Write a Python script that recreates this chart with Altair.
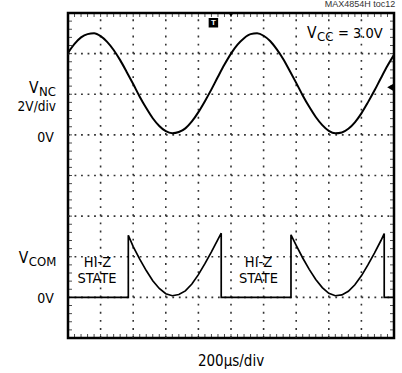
import altair as alt
import pandas as pd

NARROW = "DejaVu Sans Condensed, Liberation Sans Narrow, Arial Narrow, sans-serif"
REG = "Liberation Sans, Arial, sans-serif"

# ---- data (time in divisions of 200us, voltage in volts at 2V/div) ----
t_nc = [round(0.2 * i, 1) for i in range(51)]
nc_volts = [4.04, 4.48, 4.80, 4.96, 5.00, 4.86, 4.58, 4.18, 3.68, 3.10,
            2.50, 1.88, 1.32, 0.82, 0.44, 0.18, 0.08, 0.14, 0.32, 0.66,
            1.12, 1.66, 2.24, 2.86, 3.46, 4.00, 4.44, 4.76, 4.96, 5.00,
            4.88, 4.62, 4.22, 3.74, 3.16, 2.56, 1.94, 1.38, 0.88, 0.48,
            0.20, 0.08, 0.12, 0.30, 0.62, 1.06, 1.60, 2.18, 2.80, 3.40, 3.94]

com_t = [0, 1.85, 1.85, 2.0, 2.2, 2.4, 2.6, 2.8, 3.0, 3.2, 3.4, 3.6, 3.8, 4.0,
         4.2, 4.4, 4.6, 4.7, 4.7, 6.84, 6.84, 7.0, 7.2, 7.4, 7.6, 7.8, 8.0,
         8.2, 8.4, 8.6, 8.8, 9.0, 9.2, 9.4, 9.6, 9.7, 9.7, 10.0]
com_volts = [0, 0, 3.06, 2.50, 1.88, 1.32, 0.82, 0.44, 0.18, 0.08, 0.14, 0.32,
             0.66, 1.12, 1.66, 2.24, 2.86, 3.16, 0, 0, 3.08, 2.56, 1.94, 1.38,
             0.88, 0.48, 0.20, 0.08, 0.12, 0.30, 0.62, 1.06, 1.60, 2.18, 2.80,
             3.14, 0, 0]

NC_ZERO_DIV = 5   # 0V reference for NC trace (divisions from bottom)
COM_ZERO_DIV = 1  # 0V reference for COM trace
VOLTS_PER_DIV = 2

grid_x = [1, 2, 3, 4, 5, 6, 7, 8, 9]
grid_y = [1, 2, 3, 4, 5, 6, 7]
minor_x = [round(0.2 * i, 1) for i in range(1, 50)]
minor_y = [round(0.2 * i, 1) for i in range(1, 40)]

xs = alt.Scale(domain=[0, 10], nice=False, zero=False)
ys = alt.Scale(domain=[0, 8], nice=False, zero=False)


def X(f):
    return alt.X(f, type="quantitative", scale=xs, axis=None)


def Y(f):
    return alt.Y(f, type="quantitative", scale=ys, axis=None)


nc_df = pd.DataFrame({"t": t_nc, "v": nc_volts})
nc_df["d"] = nc_df["v"] / VOLTS_PER_DIV + NC_ZERO_DIV
com_df = pd.DataFrame({"t": com_t, "v": com_volts, "i": list(range(len(com_t)))})
com_df["d"] = com_df["v"] / VOLTS_PER_DIV + COM_ZERO_DIV

GRID_COLOR = "#333333"

vg = pd.DataFrame({"g": grid_x, "lo": 0, "hi": 8})
hg = pd.DataFrame({"g": grid_y, "lo": 0, "hi": 10})
vgrid = alt.Chart(vg).mark_rule(color=GRID_COLOR, strokeWidth=1.6, strokeDash=[1.8, 6.325]).encode(
    x=X("g"), y=Y("lo"), y2="hi")
hgrid = alt.Chart(hg).mark_rule(color=GRID_COLOR, strokeWidth=1.6, strokeDash=[1.8, 4.72]).encode(
    y=Y("g"), x=X("lo"), x2="hi")

tx = pd.DataFrame({"m": minor_x * 2, "e": [0] * len(minor_x) + [8] * len(minor_x)})
ty = pd.DataFrame({"m": minor_y * 2, "e": [0] * len(minor_y) + [10] * len(minor_y)})
ticks_x = alt.Chart(tx).mark_tick(orient="vertical", size=8, thickness=1, color="black", clip=True).encode(
    x=X("m"), y=Y("e"))
ticks_y = alt.Chart(ty).mark_tick(orient="horizontal", size=8, thickness=1, color="black", clip=True).encode(
    y=Y("m"), x=X("e"))

nc_line = alt.Chart(nc_df).mark_line(color="black", strokeWidth=2, interpolate="monotone", clip=True).encode(
    x=X("t"), y=Y("d"))

com_line = alt.Chart(com_df).mark_line(color="black", strokeWidth=1.7, clip=True).encode(
    x=X("t"), y=Y("d"), order=alt.Order("i", type="quantitative"))

# ---- labels ----
right_lbl = pd.DataFrame({
    "txt": ["V", "2V/div", "0V", "V", "0V"],
    "x": [-0.905, -0.368, -0.43, -1.218, -0.43],
    "y": [6.034, 5.591, 4.835, 1.847, 0.862],
    "s": [15.5, 13.5, 14, 15.5, 14],
})
left_lbl = pd.DataFrame({
    "txt": ["NC", "COM", "V", "CC", "= 3.0V"],
    "x": [-0.89, -1.202, 7.33, 7.64, 8.28],
    "y": [5.961, 1.773, 7.38, 7.32, 7.38],
    "s": [13, 13, 15.5, 13, 14.5],
})
center_lbl = pd.DataFrame({
    "txt": ["HI-Z", "STATE", "HI-Z", "STATE", "200\u00b5s/div"],
    "x": [0.905, 0.89, 5.844, 5.844, 5.0],
    "y": [1.749, 1.355, 1.749, 1.355, -0.69],
    "s": [14.5, 14.5, 14.5, 14.5, 15],
})


def text_layer(df, align):
    return alt.Chart(df).mark_text(align=align, baseline="alphabetic", font=NARROW, color="black").encode(
        x=X("x"), y=Y("y"),
        text=alt.Text("txt", type="nominal"),
        size=alt.Size("s", type="quantitative", scale=None, legend=None),
    )


note = alt.Chart(pd.DataFrame({"txt": ["MAX4854H toc12"], "x": [10.04], "y": [8.14]})).mark_text(
    align="right", baseline="alphabetic", font=REG, fontSize=9, color="#333333"
).encode(x=X("x"), y=Y("y"), text=alt.Text("txt", type="nominal"))

markers = pd.DataFrame({"x": [4.46], "y": [7.76], "txt": ["T"]})
trig_box = alt.Chart(markers).mark_point(shape="square", filled=True, color="black", size=90, opacity=1).encode(
    x=X("x"), y=Y("y"))
trig_t = alt.Chart(markers).mark_text(
    font=REG, fontSize=8, fontWeight="bold", color="white", baseline="middle", align="center"
).encode(x=X("x"), y=Y("y"), text=alt.Text("txt", type="nominal"))

lvl = alt.Chart(pd.DataFrame({"x": [9.88], "y": [6.17]})).mark_point(
    shape="triangle-left", filled=True, color="black", size=45, opacity=1
).encode(x=X("x"), y=Y("y"))

top_mark = alt.Chart(pd.DataFrame({"x": [5.0], "y": [7.94]})).mark_point(
    shape="triangle-down", filled=True, color="black", size=14, opacity=1
).encode(x=X("x"), y=Y("y"))

chart = alt.layer(
    vgrid, hgrid, ticks_x, ticks_y,
    nc_line, com_line,
    text_layer(right_lbl, "right"), text_layer(left_lbl, "left"), text_layer(center_lbl, "center"),
    note, trig_box, trig_t, lvl, top_mark,
).properties(
    width=326, height=325,
    padding={"left": 68, "top": 13, "right": 8, "bottom": 35},
    autosize=alt.AutoSizeParams(type="none"),
    background="white",
).configure_view(stroke="black", strokeWidth=2.5)

chart.save("out.html", embed_options={"renderer": "svg", "actions": False})
